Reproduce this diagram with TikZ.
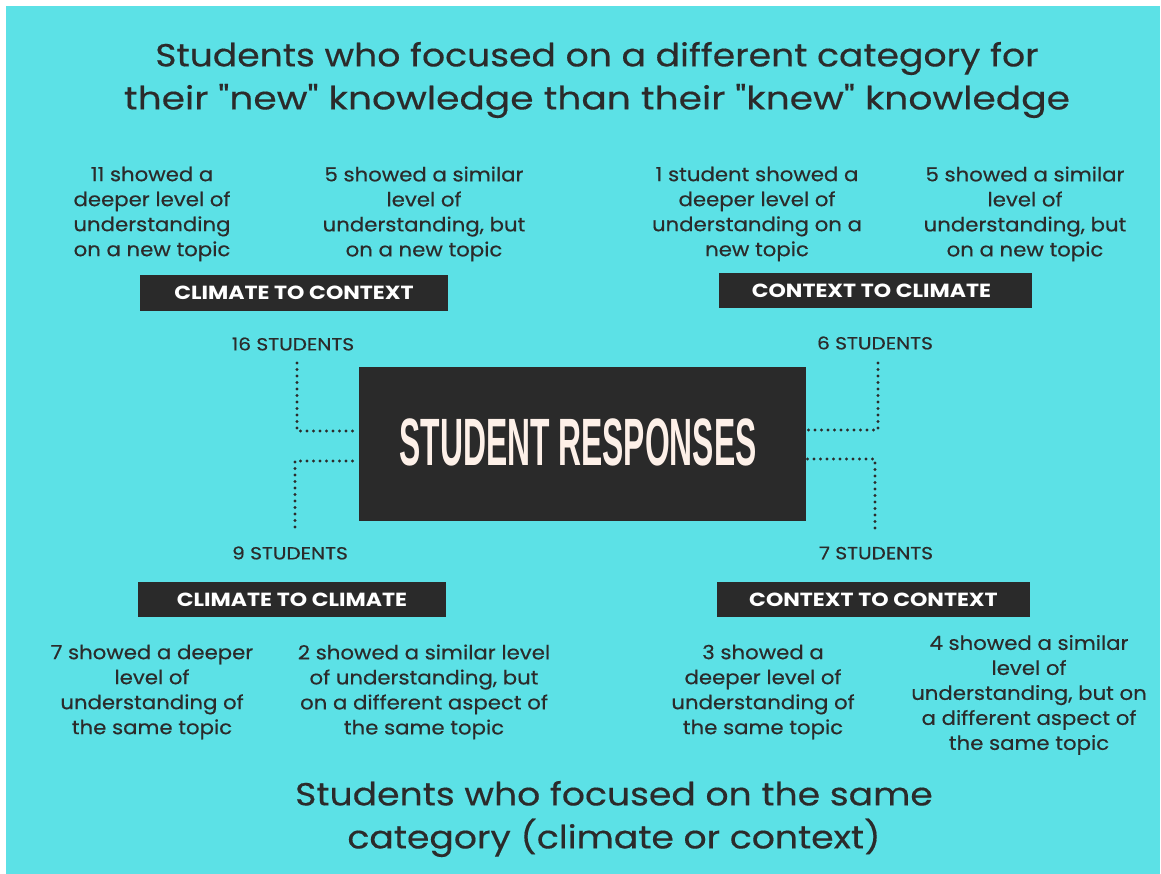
\documentclass[tikz,border=0pt]{standalone}
\usepackage{fontspec}
\setmainfont{Poppins}[Ligatures=TeXOff]
\newfontfamily\titlefont{Poppins}[Ligatures=TeXOff, FakeStretch=1.13, FakeBold=0.4]
\newfontfamily\bodyfont{Poppins}[Ligatures=TeXOff, FakeStretch=1.09, FakeBold=0.4]
\newfontfamily\countfont{Poppins}[Ligatures=TeXOff, FakeStretch=1.15, FakeBold=0.6]
\newfontfamily\tagfont{Poppins Bold}[Ligatures=TeXOff, FakeStretch=1.16]
\newfontfamily\boxfont{Liberation Sans}
\definecolor{bgcyan}{HTML}{5CE1E6}
\definecolor{darkbox}{HTML}{2A2A2A}
\definecolor{inktext}{HTML}{2B2B2B}
\definecolor{cream}{HTML}{FDF0E8}
\begin{document}
\begin{tikzpicture}[x=1pt,y=-1pt,
  title/.style={text=inktext, font=\titlefont\fontsize{32}{43}\selectfont, align=center, inner sep=0pt},
  body/.style={text=inktext, font=\bodyfont\fontsize{19.5}{25}\selectfont, align=center, inner sep=0pt},
  count/.style={text=inktext, font=\countfont\fontsize{17.5}{20}\selectfont, inner sep=0pt},
  tag/.style={fill=darkbox, text=white, font=\tagfont\fontsize{19}{20}\selectfont, minimum height=36pt, inner sep=0pt},
  dotline/.style={draw=inktext, line width=3.2pt, line cap=round, dash pattern=on 0pt off 6.5pt}
]
\useasboundingbox (0,0) rectangle (1161,874);
\fill[white] (0,0) rectangle (1161,874);
\fill[bgcyan] (6,6) rectangle (1160,874);

% titles
\node[title] (ttop) at (597,80) {Students who focused on a different category for\\\scalebox{1.04}[1]{their "new" knowledge than their "knew" knowledge}};
\node[title] (tbot) at (614,819) {Students who focused on the same\\category (climate or context)};

% central box
\node[fill=darkbox, minimum width=447pt, minimum height=154pt, inner sep=0pt] (resp) at (582.5,444) {};
\node[text=cream, inner sep=0pt] (resptxt) at (578,442) {\scalebox{0.475}[1]{\boxfont\fontsize{67}{67}\selectfont\bfseries STUDENT RESPONSES}};

% tags
\node[tag, minimum width=308pt] (cc1) at (294,293) {CLIMATE TO CONTEXT};
\node[tag, minimum width=313pt, minimum height=35pt] (cc2) at (875.5,290.5) {\hspace{-8pt}CONTEXT TO CLIMATE};
\node[tag, minimum width=308pt, minimum height=35pt] (cc3) at (292,599.5) {CLIMATE TO CLIMATE};
\node[tag, minimum width=313pt, minimum height=35pt] (cc4) at (873.5,599.5) {CONTEXT TO CONTEXT};

% counts
\node[count] (n16) at (293,344) {16 STUDENTS};
\node[count] (n6) at (875,343) {6 STUDENTS};
\node[count] (n9) at (290,553) {9 STUDENTS};
\node[count] (n7) at (876,553) {7 STUDENTS};

% descriptions
\node[body] (d1) at (152,214) {11 showed a\\deeper level of\\understanding\\on a new topic};
\node[body] (d2) at (424,214) {5 showed a similar\\level of\\understanding, but\\on a new topic};
\node[body] (d3) at (757,214) {1 student showed a\\deeper level of\\understanding on a\\new topic};
\node[body] (d4) at (1025,214) {5 showed a similar\\level of\\understanding, but\\on a new topic};
\node[body] (d5) at (152,692) {7 showed a deeper\\level of\\understanding of\\the same topic};
\node[body] (d6) at (424,692) {2 showed a similar level\\of understanding, but\\on a different aspect of\\the same topic};
\node[body] (d7) at (763,692) {3 showed a\\deeper level of\\understanding of\\the same topic};
\node[body] (d8) at (1029,695) {4 showed a similar\\level of\\understanding, but on\\a different aspect of\\the same topic};

% dotted connectors
\coordinate (a1) at (297,363);
\coordinate (a2) at (295,527);
\coordinate (a3) at (878,363);
\coordinate (a4) at (875,528);
\draw[dotline] (a1) |- (resp.west |- 0,431);
\draw[dotline] (a2) |- (resp.west |- 0,461);
\draw[dotline] (a3) |- (resp.east |- 0,430);
\draw[dotline] (a4) |- (resp.east |- 0,459);
\end{tikzpicture}
\end{document}
